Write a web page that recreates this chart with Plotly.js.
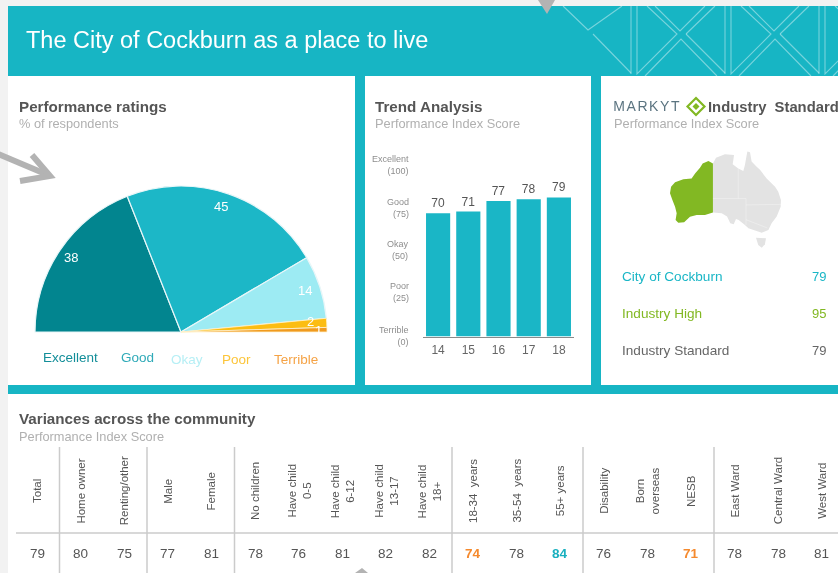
<!DOCTYPE html>
<html>
<head>
<meta charset="utf-8">
<script src="https://cdn.plot.ly/plotly-3.0.1.min.js"></script>
<style>html,body{margin:0;padding:0;background:#f2f2f2;overflow:hidden}#chart{width:838px;height:573px;filter:blur(0.3px)}</style>
</head>
<body>
<div id="chart"></div>
<script>
// ---- data ----
const ratingLabels = ['Excellent','Good','Okay','Poor','Terrible'];
const ratingValues = [38,45,14,2,1];
const ratingColors = ['#02858f','#1cb7c7','#9debf3','#fcbd12','#f09a1e'];
const legendColors = ['#138e99','#2faab8','#b6eff5','#fcc53a','#f5a346'];
const trendYears = ['14','15','16','17','18'];
const trendScores = [70,71,77,78,79];
const trendScaleWords = ['Terrible','Poor','Okay','Good','Excellent'];
const trendScaleValues = [0,25,50,75,100];
const trendScaleRows = [336,292,250,208,165];
const industryLabels = ['City of Cockburn','Industry High','Industry Standard'];
const industryValues = [79,95,79];
const industryColors = ['#1ab6c6','#82b823','#666666'];
const groupLabels = ['Total','Home owner','Renting/other','Male','Female','No children','Have child<br>0-5','Have child<br>6-12','Have child<br>13-17','Have child<br>18+','18-34  years','35-54  years','55+ years','Disability','Born<br>overseas','NESB','East Ward','Central Ward','West Ward'];
const groupScores = [79,80,75,77,81,78,76,81,82,82,74,78,84,76,78,71,78,78,81];
const groupColors = {74:'#f58a2e',71:'#f58a2e',84:'#1ab0bf'};
const waLon = [129.1,127.4,125.25,124.25,122.4,121.1,118,114.9,113.4,113,113.9,114.9,115.5,115.1,116.1,118.3,120.5,123,126.1,129.1];
const waLat = [-14.9,-14.1,-14.9,-16.35,-18.3,-20,-20.3,-21.3,-22.8,-25,-27.3,-29.6,-31.8,-34.1,-35,-34.9,-33,-32.4,-32.4,-31.6];
const eastLon = [129.1,130.25,133.6,137,136.75,136.5,138.6,140.5,141.1,142,143,143.6,145.5,146.75,149.25,152.4,153.6,154.6,154.5,153,151.1,149.9,147.4,145.5,142.4,141.1,138.75,137.75,136.9,135.6,134.4,132.4,129.1];
const eastLat = [-14.9,-13,-11.8,-12.05,-13.75,-15.2,-16.6,-17.5,-15.45,-10.9,-11.15,-14.3,-16,-17.1,-20,-22.8,-24.5,-27.3,-29.6,-32.95,-35.2,-37.5,-38.4,-37.8,-36.9,-35.8,-34.1,-33.75,-35.55,-35.2,-32.95,-31.8,-31.6];
const tasLon = [145.25,149,148.6,147.4,146.1];
const tasLat = [-40.1,-40.3,-42.3,-43.5,-42.6];
const borderLon = [138.6,138.6,null,129.1,141.5,141.5,154.6,null,141.5,141.5,null,141.5,149.5];
const borderLat = [-16.6,-26.8,null,-26.8,-26.8,-29,-28.8,null,-29,-35.8,null,-34,-36.8];

// ---- layout helpers (pixel -> paper) ----
const W = 838, H = 573;
const X = p => p / W, Y = p => 1 - p / H;
const FONT = '"Liberation Sans", Arial, sans-serif';
const ann = [];
function label(text, x, y, size, color, opt) {
  ann.push(Object.assign({text, x:X(x), y:Y(y), xref:'paper', yref:'paper', showarrow:false,
    xanchor:'left', yanchor:'middle', borderpad:0,
    font:{family:FONT, size, color}}, opt||{}));
}
const shapes = [];
function rect(x0,y0,x1,y1,color){
  shapes.push({type:'rect',xref:'paper',yref:'paper',x0:X(x0),x1:X(x1),y0:Y(y0),y1:Y(y1),fillcolor:color,line:{width:0},layer:'below'});
}
function path(points,opt){
  const d = points.map((p,i)=>(i?'L':'M')+X(p[0])+','+Y(p[1])).join(' ')+(opt.close?' Z':'');
  shapes.push({type:'path',xref:'paper',yref:'paper',path:d,fillcolor:opt.fill||'rgba(0,0,0,0)',line:{color:opt.color||'rgba(0,0,0,0)',width:opt.width||0},layer:opt.layer||'below'});
}

// ---- page blocks ----
const TEAL = '#17b5c4';
rect(8,6,838,394,TEAL);
rect(8,394,838,573,'#ffffff');
rect(8,76,355,385,'#ffffff');
rect(365,76,591,385,'#ffffff');
rect(601,76,838,385,'#ffffff');

// header pattern
const PAT = 'rgba(255,255,255,0.42)';
const PW = 1.1;
path([[563,6],[588,30],[622,6]],{color:PAT,width:PW});
path([[593,34],[631,73]],{color:PAT,width:PW});
[0,94,188].forEach(o=>{
  path([[631+o,6],[631+o,74]],{color:PAT,width:PW});
  path([[637+o,6],[637+o,74],[677+o,34],[647+o,6]],{color:PAT,width:PW});
  path([[655+o,6],[680+o,31],[705+o,6]],{color:PAT,width:PW});
  path([[645+o,76],[681+o,39],[717+o,76]],{color:PAT,width:PW});
  path([[686+o,34],[725+o,73]],{color:PAT,width:PW});
  path([[686+o,34],[715+o,6]],{color:PAT,width:PW});
});

// grey arrows
const GREY = '#b3b3b3';
path([[538,0],[555,0],[547,14]],{fill:GREY,close:true,layer:'above'});
path([[355,573],[368,573],[362,568]],{fill:GREY,close:true,layer:'above'});
path([[-2,154],[48,175]],{color:GREY,width:6,layer:'above'});
path([[32,155],[50,176],[20,181]],{color:GREY,width:6,layer:'above'});

// header + card titles
const HS = 15.2, SS = 12.8, SC = '#b0b0b0', TC = '#555555';
label('The City of Cockburn as a place to live',24.5,40,23.5,'#ffffff');
label('<b>Performance ratings</b>',17.5,106.5,HS,TC);
label('% of respondents',17.5,124,SS,SC);
label('<b>Trend Analysis</b>',373.5,106.5,HS,TC);
label('Performance Index Score',373.5,124,SS,SC);
label('<b>Industry  Standard</b>',706.5,106.5,14.8,TC);
label('Performance Index Score',612.5,124,SS,SC);
label('MARKYT',617,106,14,'#5b7480');
label('<b>Variances across the community</b>',17.5,418.5,HS,TC);
label('Performance Index Score',17.5,436,SS,SC);

// logo diamond
path([[696,98],[704.5,106.5],[696,115],[687.5,106.5]],{color:'#82b823',width:2.2,close:true,layer:'above'});
path([[696,103],[699.5,106.5],[696,110],[692.5,106.5]],{fill:'#82b823',close:true,layer:'above'});

// pie value labels + legend
const PIE = {cx:181, cy:332, r:146};
const pieLabelNudge = [[0,0],[-3,0],[-2,0],[-3,-2],[5,1]];
let cum = 0;
const total = ratingValues.reduce((a,b)=>a+b,0);
ratingValues.forEach((v,i)=>{
  const mid = (cum + v/2)/total*Math.PI; cum += v;
  label(String(v), PIE.cx - 0.91*PIE.r*Math.cos(mid)+pieLabelNudge[i][0], PIE.cy - 0.91*PIE.r*Math.sin(mid)+pieLabelNudge[i][1], 13, '#ffffff', {xanchor:'center'});
});
const legendX = [70,137,187,236,296], legendY = [357,357,359,359,359];
ratingLabels.forEach((t,i)=>label(t,legendX[i],legendY[i],13.5,legendColors[i],{xanchor:'center'}));

// trend scale labels
trendScaleWords.forEach((w,i)=>{
  label(w+'<br>('+trendScaleValues[i]+')',410,trendScaleRows[i],9,'#8e8e8e',{xanchor:'right',align:'right'});
});

// industry rows
const rowsY = [276,313,350];
industryLabels.forEach((t,i)=>{
  label(t,621,rowsY[i],13.6,industryColors[i]);
  label(String(industryValues[i]),819,rowsY[i],13,industryColors[i],{xanchor:'center'});
});

// table
const colX = i => 37 + 43.6*i;
groupLabels.forEach((t,i)=>{
  label(t,colX(i),491,11.5,'#555555',{xanchor:'center',textangle:-90});
  const c = groupColors[groupScores[i]];
  label(c ? '<b>'+groupScores[i]+'</b>' : String(groupScores[i]),colX(i),553,13.5,c||'#555555',{xanchor:'center'});
});
[59.5,147,234.5,452,583,714].forEach(x=>{
  path([[x,447],[x,573]],{color:'#cbcbcb',width:1.5});
});
path([[16,533],[838,533]],{color:'#cbcbcb',width:1.5});

// ---- traces ----
const pie = {
  type:'pie', sort:false, direction:'clockwise', rotation:270,
  values:ratingValues.concat([total]), labels:ratingLabels.concat(['(hidden)']),
  textinfo:'none', hoverinfo:'skip', showlegend:false,
  domain:{x:[X(PIE.cx-PIE.r),X(PIE.cx+PIE.r)], y:[Y(PIE.cy+PIE.r),Y(PIE.cy-PIE.r)]},
  marker:{colors:ratingColors.concat(['rgba(0,0,0,0)']),
    line:{color:['#e8f6f8','#e8f6f8','#e8f6f8','#fff3cf','#fff3cf','rgba(0,0,0,0)'],width:[1.2,1.2,1.2,0.8,0.8,0]}}
};
const bars = {
  type:'bar', x:trendYears, y:trendScores, text:trendScores.map(String),
  textposition:'outside', cliponaxis:false, hoverinfo:'skip', width:0.8,
  textfont:{family:FONT,size:12,color:'#555555'},
  marker:{color:'#1ab6c6'}, xaxis:'x', yaxis:'y'
};
const mapBase = {type:'scatter',mode:'lines',fill:'toself',hoverinfo:'skip',xaxis:'x2',yaxis:'y2',showlegend:false,line:{width:0}};
const east = Object.assign({},mapBase,{x:eastLon,y:eastLat,fillcolor:'#e3e3e3'});
const tas = Object.assign({},mapBase,{x:tasLon,y:tasLat,fillcolor:'#e3e3e3'});
const wa = Object.assign({},mapBase,{x:waLon,y:waLat,fillcolor:'#82b823'});
const borders = {type:'scatter',mode:'lines',x:borderLon,y:borderLat,xaxis:'x2',yaxis:'y2',hoverinfo:'skip',showlegend:false,
  line:{color:'rgba(255,255,255,0.45)',width:0.7}};

const layout = {
  width:W, height:H, margin:{l:0,r:0,t:0,b:0}, autosize:false,
  paper_bgcolor:'#f2f2f2', plot_bgcolor:'rgba(0,0,0,0)', showlegend:false,
  font:{family:FONT},
  xaxis:{domain:[X(423),X(574)], anchor:'y', type:'category', showgrid:false, zeroline:false,
    showline:true, linecolor:'#8a8a8a', linewidth:1.5,
    ticks:'outside', ticklen:2, tickcolor:'rgba(0,0,0,0)',
    tickfont:{family:FONT,size:12,color:'#666666'}},
  yaxis:{domain:[Y(336.5),Y(160.5)], anchor:'x', range:[0,100], visible:false, fixedrange:true},
  xaxis2:{domain:[X(670),X(782)], anchor:'y2', range:[113,155], visible:false},
  yaxis2:{domain:[Y(248),Y(151)], anchor:'x2', range:[-43.6,-10.7], visible:false},
  shapes, annotations:ann
};
Plotly.newPlot('chart',[pie,bars,east,tas,wa,borders],layout,{displayModeBar:false,staticPlot:true}).then(()=>{
  document.querySelectorAll('.annotation-text').forEach(n=>{
    if(n.textContent==='MARKYT') n.style.letterSpacing='1.6px';
  });
});
</script>
</body>
</html>
